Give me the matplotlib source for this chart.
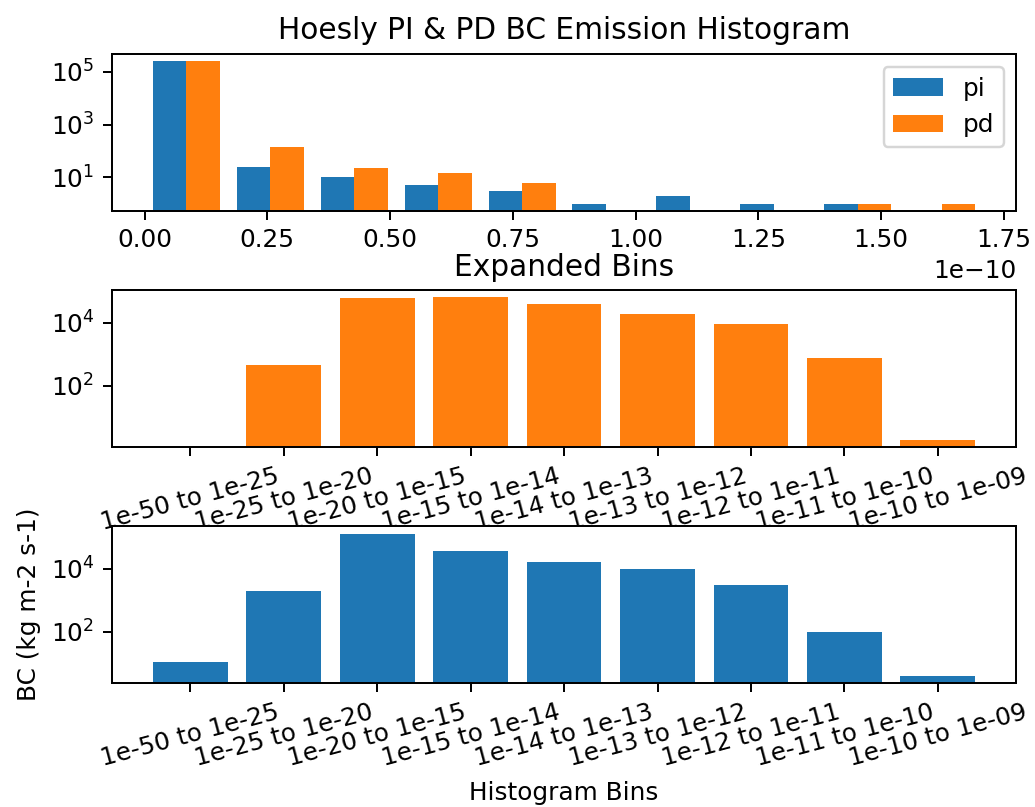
import numpy as np
import matplotlib.pyplot as plt

######################################################
# Histogram of BC emissions (linear bins), counts
bin_lo = 0.0
bin_hi = 1.709e-10
n_bins = 10
pi_counts = [250000, 25, 10, 5, 3, 1, 2, 1, 1, 0]
pd_counts = [250000, 138, 23, 14, 6, 0, 0, 0, 1, 1]

# Expanded (log-style) bins
bin_labels = ['1e-50 to 1e-25', '1e-25 to 1e-20', '1e-20 to 1e-15',
              '1e-15 to 1e-14', '1e-14 to 1e-13', '1e-13 to 1e-12',
              '1e-12 to 1e-11', '1e-11 to 1e-10', '1e-10 to 1e-09']
pd_expanded = [0, 445, 59000, 63000, 39000, 19500, 9300, 770, 2]
pi_expanded = [11, 1950, 129000, 35000, 16600, 10000, 2900, 100, 4]

######################################################
DPI = 178
edges = np.linspace(bin_lo, bin_hi, n_bins + 1)
centers = (edges[:-1] + edges[1:]) / 2

fig, axes = plt.subplots(3, 1, figsize=(1035 / DPI, 807 / DPI), dpi=DPI)

# top: pi vs pd histogram
ax = axes[0]
ax.hist([centers, centers], bins=edges, weights=[pi_counts, pd_counts],
        log=True, label=['pi', 'pd'])
ax.set_title('Hoesly PI & PD BC Emission Histogram')
ax.legend(loc='upper right')

# middle: pd in expanded bins
ax = axes[1]
ax.bar(bin_labels, pd_expanded, color='C1', log=True)
ax.set_title('Expanded Bins')
ax.tick_params(axis='x', labelrotation=15)

# bottom: pi in expanded bins
ax = axes[2]
ax.bar(bin_labels, pi_expanded, color='C0', log=True)
ax.tick_params(axis='x', labelrotation=15)
ax.set_ylabel('BC (kg m-2 s-1)')
ax.set_xlabel('Histogram Bins')

plt.subplots_adjust(left=0.108, right=0.982, top=0.9327, bottom=0.154, hspace=0.51)
fig.savefig('out.png', dpi=DPI)
